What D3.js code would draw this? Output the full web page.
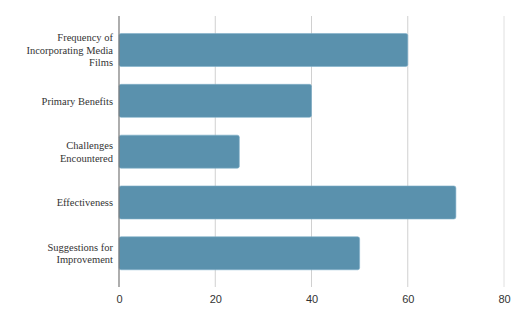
<!DOCTYPE html>
<html>
<head>
<meta charset="utf-8">
<script src="https://cdn.jsdelivr.net/npm/d3@7"></script>
<style>
  body { margin: 0; background: #fff; }
  .cat-label { font-family: "Liberation Serif", "Times New Roman", Times, serif; font-size: 10.5px; }
  .tick text { font-family: "Liberation Sans", Arial, Helvetica, sans-serif; font-size: 11px; }
</style>
</head>
<body>
<div id="chart"></div>
<script>
// data
const categories = [
  ["Frequency of", "Incorporating Media", "Films"],
  ["Primary Benefits"],
  ["Challenges", "Encountered"],
  ["Effectiveness"],
  ["Suggestions for", "Improvement"]
];
const values = [60, 40, 25, 70, 50];
const xTicks = [0, 20, 40, 60, 80];

const width = 520;
const height = 321;
const plot = { left: 119, right: 504, top: 16, bottom: 287 };

const svg = d3.select("#chart")
  .append("svg")
  .attr("width", width)
  .attr("height", height);

const keys = categories.map(c => c.join(" "));

const xScale = d3.scaleLinear()
  .domain([0, 80])
  .range([plot.left, plot.right]);

const yScale = d3.scaleBand()
  .domain(keys)
  .range([24.6, 278.7])
  .paddingInner(0.35)
  .paddingOuter(0.175);

// gridlines
svg.append("g")
  .selectAll("line")
  .data(xTicks.filter(d => d > 0))
  .join("line")
  .attr("x1", d => xScale(d))
  .attr("x2", d => xScale(d))
  .attr("y1", plot.top)
  .attr("y2", plot.bottom)
  .attr("stroke", d => d === 80 ? "#e0e0e0" : "#d0d0d0")
  .attr("stroke-width", 1);

// bars
svg.append("g")
  .selectAll("rect")
  .data(values)
  .join("rect")
  .attr("x", xScale(0))
  .attr("y", (d, i) => yScale(keys[i]))
  .attr("width", d => xScale(d) - xScale(0))
  .attr("height", yScale.bandwidth())
  .attr("rx", 2)
  .attr("fill", "#5a91ad")
  .attr("stroke", "#7fb0c9")
  .attr("stroke-width", 0.6);

// left axis line
svg.append("line")
  .attr("x1", xScale(0))
  .attr("x2", xScale(0))
  .attr("y1", plot.top)
  .attr("y2", plot.bottom)
  .attr("stroke", "#777")
  .attr("stroke-width", 1.2);

// x-axis tick labels
const xAxis = d3.axisBottom(xScale)
  .tickValues(xTicks)
  .tickSize(0)
  .tickPadding(0);

const xg = svg.append("g")
  .attr("transform", `translate(0, ${plot.bottom + 8})`)
  .call(xAxis)
  .attr("font-family", null)
  .attr("font-size", null);
xg.select(".domain").remove();
xg.selectAll("text")
  .attr("fill", "#333");

// category labels
const labels = svg.append("g")
  .selectAll("text")
  .data(categories)
  .join("text")
  .attr("class", "cat-label")
  .attr("text-anchor", "end")
  .attr("fill", "#333");

labels.each(function(lines, i) {
  const cy = yScale(keys[i]) + yScale.bandwidth() / 2;
  const lh = 12.8;
  const start = cy - (lines.length - 1) * lh / 2;
  lines.forEach((oneline, j) => {
    d3.select(this).append("tspan")
      .attr("x", 113)
      .attr("y", start + j * lh)
      .attr("dy", "0.35em")
      .text(oneline);
  });
});
</script>
</body>
</html>
